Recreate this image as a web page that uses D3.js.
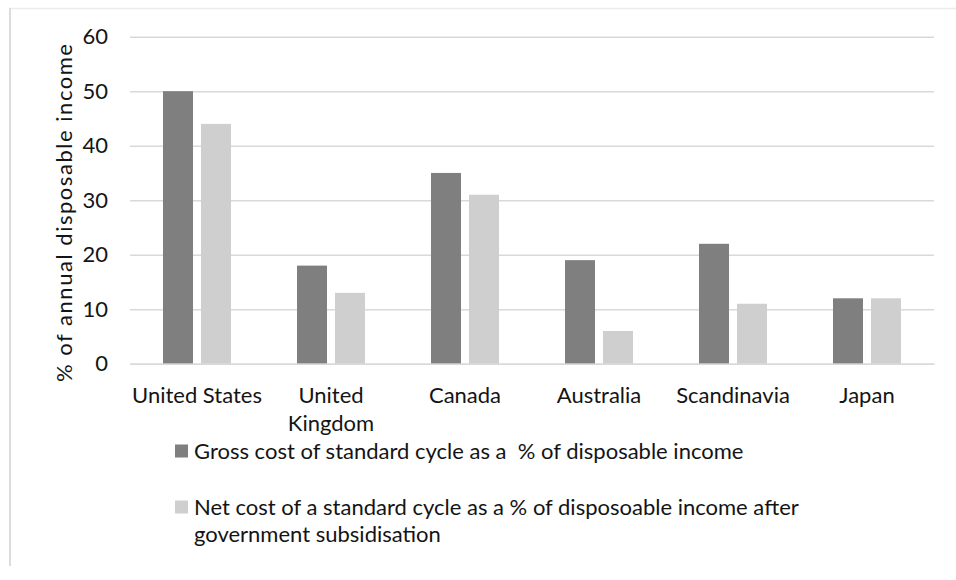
<!DOCTYPE html>
<html>
<head>
<meta charset="utf-8">
<script src="https://cdn.jsdelivr.net/npm/d3@7"></script>
<style>
  html, body { margin: 0; padding: 0; background: #fff; }
  svg { display: block; }
  text { font-family: Lato, "Open Sans", sans-serif; fill: #141414; }
</style>
</head>
<body>
<svg id="chart" width="956" height="580"></svg>
<script>
// Cost of one standard IVF cycle by country
const categories = ["United States", "United Kingdom", "Canada", "Australia", "Scandinavia", "Japan"];
const seriesNames = [
  "Gross cost of standard cycle as a  % of disposable income",
  "Net cost of a standard cycle as a % of disposoable income after government subsidisation"
];
const grossCost = [50, 18, 35, 19, 22, 12];
const netCost = [44, 13, 31, 6, 11, 12];
const yTicks = [0, 10, 20, 30, 40, 50, 60];
const yTitle = "% of annual disposable income";
const seriesColors = ["#7f7f7f", "#d0cfd0"];

const series = [grossCost, netCost];
const svg = d3.select("#chart");
const fontSize = "22px";

// chart frame
svg.append("line").attr("x1", 10).attr("x2", 956).attr("y1", 8.5).attr("y2", 8.5)
  .attr("stroke", "#ececec").attr("stroke-width", 1.5);
svg.append("line").attr("x1", 10).attr("x2", 10).attr("y1", 8).attr("y2", 566)
  .attr("stroke", "#dcdcdc").attr("stroke-width", 2);

const plot = { left: 130, right: 934, top: 36.7, bottom: 363.7 };

const x0 = d3.scaleBand().domain(categories).range([plot.left, plot.right]).padding(0);
const x1 = d3.scaleBand().domain(d3.range(series.length)).range([33, 101]).paddingInner(8 / 38).paddingOuter(0);
const y = d3.scaleLinear().domain([0, 60]).range([plot.bottom, plot.top]);

// gridlines
svg.append("g")
  .attr("transform", `translate(${plot.left},0)`)
  .call(d3.axisLeft(y).tickValues(yTicks).tickSize(-(plot.right - plot.left)).tickFormat(""))
  .call(g => g.select(".domain").remove())
  .call(g => g.selectAll(".tick line").attr("stroke", "#d9d9d9").attr("stroke-width", 1.5));

// y tick labels
svg.append("g")
  .attr("transform", `translate(${plot.left},0)`)
  .call(d3.axisLeft(y).tickValues(yTicks).tickSize(0).tickPadding(22))
  .call(g => g.select(".domain").remove())
  .call(g => g.selectAll(".tick text")
    .style("font-family", "Lato, sans-serif").style("font-size", fontSize).attr("fill", "#141414"));

// bars
const groups = svg.append("g").selectAll("g")
  .data(categories)
  .join("g")
  .attr("transform", d => `translate(${x0(d)},0)`);

groups.selectAll("rect")
  .data((d, i) => series.map((s, k) => ({ k, v: s[i] })))
  .join("rect")
  .attr("x", d => x1(d.k))
  .attr("width", x1.bandwidth())
  .attr("y", d => y(d.v))
  .attr("height", d => y(0) - y(d.v))
  .attr("fill", d => seriesColors[d.k]);

// x axis line and category labels
svg.append("g")
  .attr("transform", `translate(0,${plot.bottom})`)
  .call(d3.axisBottom(x0).tickSize(0).tickPadding(24))
  .call(g => g.select(".domain").attr("stroke", "#d9d9d9").attr("stroke-width", 1.5))
  .call(g => g.selectAll(".tick text")
    .style("font-family", "Lato, sans-serif").style("font-size", fontSize).attr("fill", "#141414")
    .call(wrap, x0.bandwidth() - 2, 28));

// y axis title
svg.append("text")
  .attr("transform", `translate(72,213) rotate(-90)`)
  .attr("text-anchor", "middle")
  .attr("textLength", 338)
  .attr("lengthAdjust", "spacing")
  .style("font-size", fontSize)
  .text(yTitle);

// legend
const legend = svg.append("g").attr("transform", "translate(175,0)");
const legendY = [451, 507];
seriesNames.forEach((name, k) => {
  legend.append("rect")
    .attr("x", 0).attr("y", legendY[k] - 6.5).attr("width", 13).attr("height", 13)
    .attr("fill", seriesColors[k]);
  legend.append("text")
    .attr("x", 19).attr("y", legendY[k]).attr("dy", "0.35em")
    .style("font-size", fontSize).style("white-space", "pre")
    .text(name)
    .call(wrap, 620, 27);
});

function wrap(sel, width, lineHeight) {
  sel.each(function () {
    const text = d3.select(this);
    const words = text.text().split(/ (?! )/);
    const xAttr = text.attr("x") || 0;
    const yAttr = text.attr("y") || 0;
    const dy = text.attr("dy") || "0.71em";
    text.text(null);
    let line = [];
    let lineNo = 0;
    let tspan = text.append("tspan").attr("x", xAttr).attr("y", yAttr).attr("dy", dy);
    for (const w of words) {
      line.push(w);
      tspan.text(line.join(" "));
      if (tspan.node().getComputedTextLength() > width && line.length > 1) {
        line.pop();
        tspan.text(line.join(" "));
        line = [w];
        lineNo++;
        tspan = text.append("tspan").attr("x", xAttr).attr("y", +yAttr + lineNo * lineHeight)
          .attr("dy", dy).text(w);
      }
    }
  });
}
</script>
</body>
</html>
